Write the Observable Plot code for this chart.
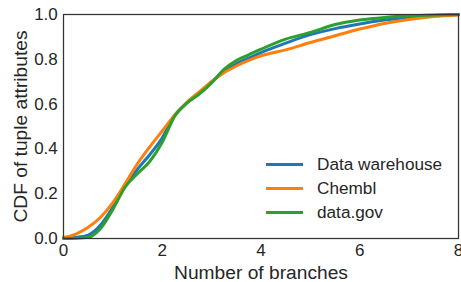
<!DOCTYPE html>
<html>
<head>
<meta charset="utf-8">
<script src="https://cdn.jsdelivr.net/npm/d3@7"></script>
<script src="https://cdn.jsdelivr.net/npm/@observablehq/plot@0.6"></script>
<style>
  html, body { margin: 0; padding: 0; background: #fff; }
  #wrap { position: relative; width: 461px; height: 282px; font-family: "Liberation Sans", Arial, sans-serif; }
  #wrap svg g[aria-label$="tick label"] text { font-size: 17px !important; }
  #wrap svg g[aria-label$="axis label"] text { font-size: 19.2px !important; }
  #legend { position: absolute; left: 266px; top: 152px; color: #262626; font-size: 17.2px; }
  .row { display: flex; align-items: center; height: 24.4px; }
  .sw { width: 37px; height: 3px; margin-right: 14px; }
</style>
</head>
<body>
<div id="wrap"></div>
<script>
const xs = [0, 0.25, 0.5, 0.75, 1.0, 1.25, 1.5, 1.75, 2.0, 2.25, 2.5, 2.75, 3.0, 3.25, 3.5, 3.75, 4.0, 4.5, 5.0, 5.5, 6.0, 6.5, 7.0, 7.5, 8.0];
const dataWarehouse = [0.002, 0.005, 0.015, 0.06, 0.14, 0.235, 0.31, 0.375, 0.45, 0.55, 0.605, 0.65, 0.70, 0.745, 0.78, 0.805, 0.83, 0.872, 0.91, 0.937, 0.958, 0.975, 0.988, 0.995, 1.0];
const chembl = [0.005, 0.02, 0.05, 0.095, 0.16, 0.245, 0.335, 0.41, 0.48, 0.55, 0.608, 0.655, 0.70, 0.74, 0.77, 0.795, 0.815, 0.842, 0.875, 0.905, 0.935, 0.96, 0.978, 0.991, 0.998];
const dataGov = [0.0, 0.001, 0.005, 0.045, 0.13, 0.23, 0.29, 0.345, 0.43, 0.545, 0.605, 0.645, 0.695, 0.755, 0.795, 0.82, 0.845, 0.89, 0.92, 0.955, 0.975, 0.987, 0.994, 0.998, 1.0];
const seriesNames = ["Data warehouse", "Chembl", "data.gov"];
const seriesColors = ["#1f77b4", "#ff7f0e", "#2ca02c"];
const xTicks = [0, 2, 4, 6, 8];
const yTicks = [0.0, 0.2, 0.4, 0.6, 0.8, 1.0];

const seriesValues = [dataWarehouse, chembl, dataGov];
const rows = [];
seriesNames.forEach((name, i) => {
  xs.forEach((x, j) => rows.push({series: name, x, y: seriesValues[i][j]}));
});

const chart = Plot.plot({
  width: 461,
  height: 282,
  marginLeft: 63,
  marginRight: 3,
  marginTop: 14,
  marginBottom: 44,
  style: {fontFamily: '"Liberation Sans", Arial, sans-serif', fontSize: "17px", color: "#262626", background: "#fff"},
  x: {domain: [0, 8]},
  y: {domain: [0, 1]},
  color: {domain: seriesNames, range: seriesColors},
  marks: [
    Plot.lineY(rows, {x: "x", y: "y", z: "series", stroke: "series", strokeWidth: 3, curve: "monotone-x"}),
    Plot.frame({stroke: "#333", strokeWidth: 1.25}),
    Plot.axisX({ticks: xTicks, tickSize: 0, tickPadding: 5, tickFormat: d3.format("d"),
      label: "Number of branches", labelAnchor: "center", labelArrow: "none", labelOffset: 40}),
    Plot.axisY({ticks: yTicks, tickSize: 0, tickPadding: 5.7, tickFormat: d3.format(".1f"),
      label: "CDF of tuple attributes", labelAnchor: "center", labelArrow: "none", labelOffset: 50})
  ]
});
const wrap = document.getElementById("wrap");
wrap.appendChild(chart);

const legend = document.createElement("div");
legend.id = "legend";
seriesNames.forEach((n, i) => {
  const r = document.createElement("div");
  r.className = "row";
  r.innerHTML = `<div class="sw" style="background:${seriesColors[i]}"></div><span>${n}</span>`;
  legend.appendChild(r);
});
wrap.appendChild(legend);
</script>
</body>
</html>
